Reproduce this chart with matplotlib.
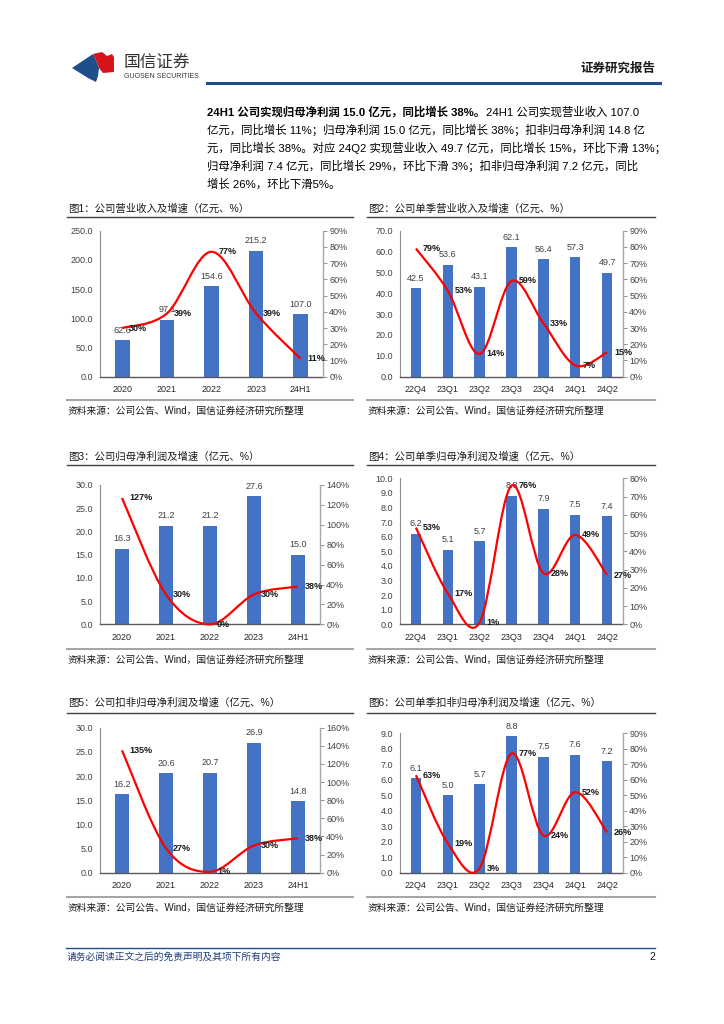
import matplotlib
matplotlib.use('Agg')
import matplotlib.pyplot as plt
from matplotlib.path import Path
from matplotlib.patches import PathPatch, Polygon
import numpy as np

plt.rcParams['font.family'] = ['Liberation Sans', 'Noto Sans CJK SC']

# ---------------- data ----------------
years = ['2020', '2021', '2022', '2023', '24H1']
quarters = ['22Q4', '23Q1', '23Q2', '23Q3', '23Q4', '24Q1', '24Q2']

rev_y = [62.6, 97.1, 154.6, 215.2, 107.0]
rev_y_g = [30, 39, 77, 39, 11]
rev_q = [42.5, 53.6, 43.1, 62.1, 56.4, 57.3, 49.7]
rev_q_g = [79, 53, 14, 59, 33, 7, 15]
np_y = [16.3, 21.2, 21.2, 27.6, 15.0]
np_y_g = [127, 30, 0, 30, 38]
np_q = [6.2, 5.1, 5.7, 8.8, 7.9, 7.5, 7.4]
np_q_g = [53, 17, 1, 76, 28, 49, 27]
dnp_y = [16.2, 20.6, 20.7, 26.9, 14.8]
dnp_y_g = [135, 27, 1, 30, 38]
dnp_q = [6.1, 5.0, 5.7, 8.8, 7.5, 7.6, 7.2]
dnp_q_g = [63, 19, 3, 77, 24, 52, 26]

titles = ['图1：公司营业收入及增速（亿元、%）',
          '图2：公司单季营业收入及增速（亿元、%）',
          '图3：公司归母净利润及增速（亿元、%）',
          '图4：公司单季归母净利润及增速（亿元、%）',
          '图5：公司扣非归母净利润及增速（亿元、%）',
          '图6：公司单季扣非归母净利润及增速（亿元、%）']
source = '资料来源：公司公告、Wind，国信证券经济研究所整理'

para_bold = '24H1 公司实现归母净利润 15.0 亿元，同比增长 38%。'
para_lines = ['24H1 公司实现营业收入 107.0',
              '亿元，同比增长 11%；归母净利润 15.0 亿元，同比增长 38%；扣非归母净利润 14.8 亿',
              '元，同比增长 38%。对应 24Q2 实现营业收入 49.7 亿元，同比增长 15%，环比下滑 13%；',
              '归母净利润 7.4 亿元，同比增长 29%，环比下滑 3%；扣非归母净利润 7.2 亿元，同比',
              '增长 26%，环比下滑5%。']

W, H = 724, 1024
BLUE = '#4472C4'

fig = plt.figure(figsize=(W / 100, H / 100), dpi=100)
page = fig.add_axes([0, 0, 1, 1])
page.set_xlim(0, W)
page.set_ylim(H, 0)
page.axis('off')


def rect(x0, y0, x1, y1):
    return [x0 / W, 1 - y1 / H, (x1 - x0) / W, (y1 - y0) / H]


def smooth(xs, ys, t=1 / 6):
    # excel-like smoothed line as cubic bezier through the data points
    pts = np.column_stack([xs, ys]).astype(float)
    n = len(pts)
    verts = [pts[0]]
    codes = [Path.MOVETO]
    for i in range(n - 1):
        p0 = pts[max(i - 1, 0)]
        p1 = pts[i]
        p2 = pts[i + 1]
        p3 = pts[min(i + 2, n - 1)]
        verts += [p1 + (p2 - p0) * t, p2 - (p3 - p1) * t, p2]
        codes += [Path.CURVE4] * 3
    return Path(verts, codes)


def chart(box, cats, vals, growth, ymax, ystep, gmax, gstep):
    ax = fig.add_axes(rect(*box))
    x = np.arange(len(cats))
    bars = ax.bar(x, vals, width=0.33, color=BLUE, zorder=2)
    ax.bar_label(bars, labels=[f'{v:.1f}' for v in vals], padding=4,
                 fontsize=6.5, color='#404040')
    ax.set_xlim(-0.5, len(cats) - 0.5)
    ax.set_ylim(0, ymax)
    ax.set_yticks(np.arange(0, ymax + ystep / 2, ystep))
    ax.yaxis.set_major_formatter(lambda v, p: f'{v:.1f}')
    ax.set_xticks(x, cats)
    ax.tick_params(axis='x', length=0, pad=6, labelsize=6.5, labelcolor='#262626')
    ax.tick_params(axis='y', length=0, pad=5, labelsize=6.5, labelcolor='#404040')
    for s in ['top', 'right']:
        ax.spines[s].set_visible(False)
    ax.spines['left'].set_color('#8c8c8c')
    ax.spines['left'].set_linewidth(0.8)
    ax.spines['bottom'].set_color('#595959')
    ax.spines['bottom'].set_linewidth(1.0)

    ax2 = ax.twinx()
    ax2.set_ylim(0, gmax)
    ax2.set_yticks(np.arange(0, gmax + gstep / 2, gstep))
    ax2.yaxis.set_major_formatter(lambda v, p: f'{v:.0f}%')
    ax2.tick_params(axis='y', length=3, width=0.6, color='#808080', pad=1.5,
                    labelsize=6.5, labelcolor='#404040')
    for s in ['top', 'left', 'bottom']:
        ax2.spines[s].set_visible(False)
    ax2.spines['right'].set_color('#a6a6a6')
    ax2.spines['right'].set_linewidth(1.0)
    ax2.add_patch(PathPatch(smooth(x, growth), fill=False, edgecolor='#FF0000',
                            lw=1.6, clip_on=False, zorder=3))
    for xi, g in zip(x, growth):
        ax2.annotate(f'{g}%', (xi, g), xytext=(5, 0), textcoords='offset points',
                     ha='left', va='center', fontsize=6.5, fontweight='bold',
                     color='#1a1a1a', zorder=4)
    return ax


def frame(x0, x1, title, title_y, line_y, sep_y, src_y):
    page.text(x0 + 1, title_y, title, fontsize=7.5, va='center', ha='left', color='#1a1a1a')
    page.plot([x0, x1], [line_y, line_y], color='#404040', lw=1.0)
    page.plot([x0, x1], [sep_y, sep_y], color='#a6a6a6', lw=1.5)
    page.text(x0 + 1, src_y, source, fontsize=7, va='center', ha='left', color='#1a1a1a')


# ---------------- header ----------------
page.add_patch(Polygon([(72, 68), (93, 54), (96, 60), (99, 68), (98, 76), (96, 82), (88, 78)],
                       closed=True, color='#1f4e8c', lw=0))
page.add_patch(Polygon([(93, 54), (102, 52), (107, 56), (112, 54), (114, 57), (114, 72),
                        (103, 73), (99, 68), (96, 60)],
                       closed=True, color='#d7141a', lw=0))
page.text(124, 62, '国信证券', fontsize=12, va='center', ha='left', color='#333333')
page.text(124, 77, 'GUOSEN SECURITIES', fontsize=5, va='center', ha='left', color='#333333')
page.text(655, 69, '证券研究报告', fontsize=9, va='center', ha='right', fontweight='bold',
          color='#1a1a1a')
page.plot([207, 660], [83, 83], color='#1f4e8c', lw=2.2)

# paragraph
ly = [112, 130, 148, 166, 184]
PFS = 8.2
fig.canvas.draw()
r = fig.canvas.get_renderer()
tb = page.text(207, ly[0], para_bold, fontsize=PFS, fontweight='bold', va='center', ha='left')
bb = tb.get_window_extent(renderer=r)
page.text(bb.x1 + 1, H - ly[0], para_lines[0], fontsize=PFS, va='center', ha='left',
          transform=None)
for y, s in zip(ly[1:], para_lines[1:]):
    page.text(207, y, s, fontsize=PFS, va='center', ha='left')

# ---------------- charts ----------------
chart((100, 230.7, 323, 376.7), years, rev_y, rev_y_g, 250, 50, 90, 10)
chart((400, 230.7, 623, 376.7), quarters, rev_q, rev_q_g, 70, 10, 90, 10)
chart((100, 485, 320, 624.3), years, np_y, np_y_g, 30, 5, 140, 20)
chart((400, 478.3, 623, 624.3), quarters, np_q, np_q_g, 10, 1, 80, 10)
chart((100, 727.7, 320, 872.7), years, dnp_y, dnp_y_g, 30, 5, 160, 20)
chart((400, 733.3, 623, 872.7), quarters, dnp_q, dnp_q_g, 9, 1, 90, 10)

frame(67, 353, titles[0], 209, 217, 400, 411)
frame(367, 655, titles[1], 209, 217, 400, 411)
frame(67, 353, titles[2], 457, 465, 649, 660)
frame(367, 655, titles[3], 457, 465, 649, 660)
frame(67, 353, titles[4], 703, 713, 897, 908)
frame(367, 655, titles[5], 703, 713, 897, 908)

# ---------------- footer ----------------
page.plot([66, 655], [948, 948], color='#1f4e8c', lw=1.0)
page.text(67, 957, '请务必阅读正文之后的免责声明及其项下所有内容', fontsize=7, style='italic',
          color='#1f3c78', va='center', ha='left')
page.text(655, 957, '2', fontsize=7.5, va='center', ha='right', color='#1a1a1a')

fig.savefig('out.png', dpi=100)
